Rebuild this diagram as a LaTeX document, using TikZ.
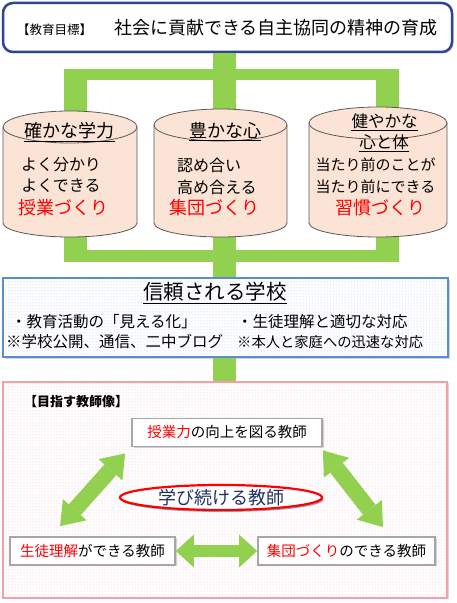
\documentclass[tikz,border=0pt]{standalone}
\usepackage{fontspec}
\setmainfont{Noto Sans CJK JP}
\usetikzlibrary{arrows.meta,positioning,patterns,shadows,shapes.geometric}
\definecolor{leafgreen}{RGB}{146,208,80}
\definecolor{goalblue}{RGB}{46,69,147}
\definecolor{trustblue}{RGB}{90,140,210}
\definecolor{aimpink}{RGB}{242,160,170}
\definecolor{drumfill}{RGB}{251,228,213}
\definecolor{hubnavy}{RGB}{32,48,96}
\newcommand\fsz[1]{\fontsize{#1}{#1}\selectfont}

\begin{document}
\begin{tikzpicture}[x=1pt,y=1pt,
    bar/.style={draw=leafgreen,line width=23pt},
    rail/.style={draw=leafgreen,line width=11.5pt},
    drum/.style={fill=drumfill,draw=black!65,line width=0.8pt},
    head/.style={inner sep=0pt,font=\fsz{18}},
    body/.style={inner sep=0pt,font=\fsz{16}},
    craft/.style={inner sep=0pt,font=\fsz{18},text=red},
    line/.style={inner sep=0pt,anchor=west,font=\fsz{15.5}},
    uline/.style={draw=black,line width=1.1pt},
    teacher/.style={draw=gray!70,line width=1.8pt,fill=white,minimum height=28pt,inner sep=2pt,font=\fsz{14.5},
      drop shadow={shadow xshift=1.5pt,shadow yshift=-1.5pt,opacity=0.35}},
    fat/.style={draw=leafgreen,line width=16pt,
      arrows={Triangle[width=32pt,length=22pt,line width=0pt]-Triangle[width=32pt,length=22pt,line width=0pt]}},
    link/.style={draw=leafgreen,line width=11.5pt,
      arrows={Triangle[width=33pt,length=18pt,line width=0pt]-Triangle[width=33pt,length=18pt,line width=0pt]}},
  ]
  \useasboundingbox (0,0) rectangle (456,603);

  % goal
  \node[draw=goalblue,line width=2.5pt,fill=white,rounded corners=10pt,minimum width=449pt,minimum height=49pt,
    drop shadow={shadow xshift=1.5pt,shadow yshift=-1.5pt,opacity=0.3}] (goal) at (227.5,575.5)
    {{\fsz{12.5}【教育目標】}\hspace{22pt}{\fsz{18}社会に貢献できる自主協同の精神の育成}};

  % pillars: anchor points
  \foreach \i/\cx/\yt in {1/70/476,2/220.5/478,3/378/480}{
    \coordinate (top\i) at (\cx,\yt);
    \coordinate (bot\i) at (\cx,380);
  }
  \coordinate (t1) at (75.5,528.5); \coordinate (t2) at (224.5,528.5); \coordinate (t3) at (387.5,528.5);
  \coordinate (b1) at (75.5,347); \coordinate (b2) at (224.5,347); \coordinate (b3) at (387.5,347);

  % green joints
  \draw[bar] (goal.south -| t2) -- ([yshift=-5.75]t2);
  \draw[rail] ([xshift=-11.5]t1) -- ([xshift=11.5]t3);
  \draw[rail] ([xshift=-11.5]b1) -- ([xshift=11.5]b3);
  \foreach \i in {1,2,3}{
    \draw[bar] ([yshift=5.75]t\i) -- (t\i |- top\i);
    \draw[bar] ([yshift=-5.75]b\i) -- (b\i |- bot\i);
  }

  % pillars
  \foreach \cx/\rx/\yt in {70/67/476,220.5/66.5/478,378/69/480}{
    \filldraw[drum] (\cx-\rx,\yt) -- (\cx-\rx,380) arc[start angle=180,end angle=360,x radius=\rx,y radius=14] -- (\cx+\rx,\yt);
    \filldraw[drum] (\cx,\yt) ellipse[x radius=\rx,y radius=16];
  }
  \node[head] (p1) at (69.5,472) {確かな学力};
  \node[body] (p1a) at (61,438) {よく分かり};
  \node[body] (p1b) at (61,417) {よくできる};
  \node[craft] (p1c) at (63,395) {授業づくり};
  \node[head] (p2) at (225,472) {豊かな心};
  \node[body,anchor=west] (p2a) at (177,438) {認め合い};
  \node[body,anchor=west] (p2b) at (177,416) {高め合える};
  \node[craft] (p2c) at (214,395) {集団づくり};
  \node[head,font=\fsz{16.5}] (p3) at (384.5,482) {健やかな};
  \node[head,font=\fsz{16.5}] (p3x) at (384,461) {心と体};
  \node[body,font=\fsz{15}] (p3a) at (375.5,438) {当たり前のことが};
  \node[body,font=\fsz{15}] (p3b) at (375.5,416) {当たり前にできる};
  \node[craft] (p3c) at (380,395) {習慣づくり};
  \foreach \n in {p1,p2,p3,p3x}
    \draw[uline] ([yshift=-1.5pt]\n.south west) -- ([yshift=-1.5pt]\n.south east);

  % trusted school
  \node[draw=trustblue,line width=2pt,minimum width=445pt,minimum height=79pt,
    drop shadow={shadow xshift=2pt,shadow yshift=-2pt,opacity=0.35},
    preaction={fill=white},pattern=dots,pattern color=trustblue!50] (trust) at (225.5,285.5) {};
  \draw[bar] (b2) -- (trust.north -| b2);
  \node[inner sep=0pt,font=\fsz{20.5}] (trusthead) at (215,311) {信頼される学校};
  \draw[uline] ([yshift=-1.5pt]trusthead.south west) -- ([yshift=-1.5pt]trusthead.south east);
  \node[line] (tl1) at (11,281) {・教育活動の「見える化」};
  \node[line] (tl2) at (6,261) {※学校公開、通信、二中ブログ};
  \node[line] (tr1) at (237,281) {・生徒理解と適切な対応};
  \node[line,font=\fsz{14.3}] (tr2) at (237,261) {※本人と家庭への迅速な対応};

  % teachers we aim for
  \node[draw=aimpink,line width=2.5pt,minimum width=444pt,minimum height=216pt,
    drop shadow={shadow xshift=1.5pt,shadow yshift=-1.5pt,opacity=0.3},
    preaction={fill=white},pattern=dots,pattern color=aimpink!75] (aim) at (225,113) {};
  \draw[bar] (trust.south -| t2) -- (aim.north -| t2);
  \node[inner sep=0pt,anchor=west,font=\fsz{13}\bfseries] (aimhead) at (24,201) {【目指す教師像】};

  \node[teacher,minimum width=190pt] (jugyo) at (227,170.5) {{\color{red}授業力}の向上を図る教師};
  \node[teacher,minimum width=165pt] (seito) at (92.5,52) {{\color{red}生徒理解}ができる教師};
  \node[teacher,minimum width=177pt] (shudan) at (346.5,52) {{\color{red}集団づくり}のできる教師};

  \draw[fat] ([shift={(51,10)}]seito.north west) -- ([shift={(-6,-6)}]jugyo.south west);
  \draw[fat] ([shift={(0,-3)}]jugyo.south east) -- ([shift={(-53,9)}]shudan.north east);
  \draw[link] (seito.east) -- (shudan.west);

  \node[ellipse,draw=red,line width=2.2pt,fill=white,minimum width=202pt,minimum height=25pt,inner sep=0pt,
    font=\fsz{18},text=hubnavy,
    drop shadow={shadow xshift=1.5pt,shadow yshift=-2pt,fill=hubnavy,opacity=0.45}] (learn) at (221,105.5) {学び続ける教師};
\end{tikzpicture}
\end{document}
